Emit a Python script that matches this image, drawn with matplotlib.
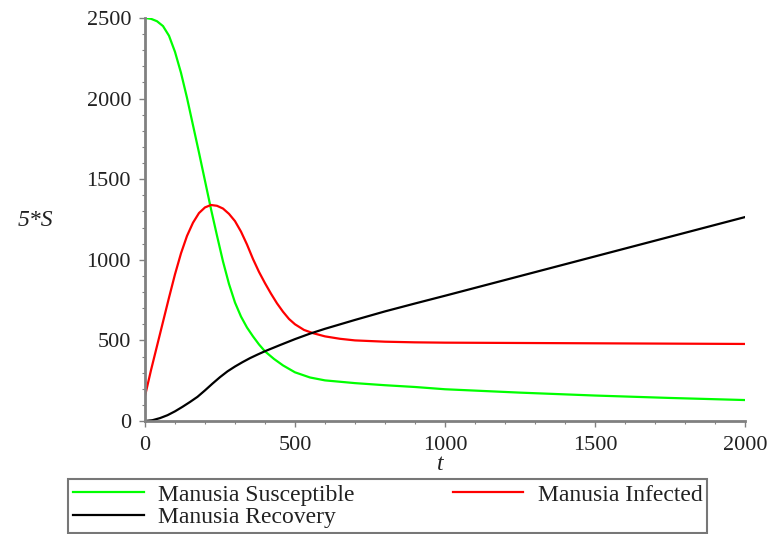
import numpy as np
import matplotlib.pyplot as plt
from matplotlib.ticker import MultipleLocator

# values
t_s = [0, 20, 40, 60, 80, 100, 120, 140, 160, 180, 200, 220, 240, 260, 280, 300, 320,
       340, 360, 380, 400, 430, 460, 500, 550, 600, 700, 800, 900, 1000, 1250, 1500,
       1750, 2000]
susceptible = [2500, 2495, 2480, 2450, 2390, 2290, 2160, 2005, 1835, 1665, 1490, 1315,
               1150, 990, 850, 735, 648, 580, 525, 475, 432, 385, 345, 302, 270, 252,
               235, 222, 211, 197, 176, 158, 143, 130]

t_i = [0, 20, 40, 60, 80, 100, 120, 140, 160, 180, 200, 220, 240, 260, 280, 300, 320,
       340, 360, 380, 400, 420, 440, 460, 480, 500, 530, 560, 600, 650, 700, 800, 900,
       1000, 1500, 2000]
infected = [155, 315, 465, 615, 765, 910, 1040, 1148, 1230, 1290, 1325, 1340, 1335,
            1318, 1285, 1240, 1175, 1095, 1005, 925, 855, 790, 730, 678, 633, 600, 565,
            545, 525, 510, 500, 492, 488, 486, 482, 478]

t_r = [0, 25, 50, 75, 100, 125, 150, 175, 200, 225, 250, 275, 300, 325, 350, 375, 400,
       450, 500, 550, 600, 700, 800, 900, 1000, 1500, 2000]
recovery = [0, 5, 18, 36, 60, 88, 118, 150, 190, 232, 272, 308, 338, 365, 390, 412, 433,
            471, 508, 542, 572, 627, 680, 729, 777, 1021, 1265]

labels = ["Manusia Susceptible", "Manusia Infected", "Manusia Recovery"]

plt.rcParams['font.family'] = ['Liberation Serif', 'DejaVu Serif']

fig = plt.figure(figsize=(7.77, 5.34), dpi=100)
ax = fig.add_axes([0.1866, 0.2116, 0.7722, 0.7547])

l1, = ax.plot(t_s, susceptible, color='#00ff00', lw=1.6)
l2, = ax.plot(t_i, infected, color='#ff0000', lw=1.6)
l3, = ax.plot(t_r, recovery, color='black', lw=1.6)

ax.set_xlim(0, 2000)
ax.set_ylim(0, 2500)
for side in ['top', 'right']:
    ax.spines[side].set_visible(False)
for side in ['left', 'bottom']:
    ax.spines[side].set_color('#808080')
    ax.spines[side].set_linewidth(2)

ax.xaxis.set_major_locator(MultipleLocator(500))
ax.xaxis.set_minor_locator(MultipleLocator(100))
ax.yaxis.set_major_locator(MultipleLocator(500))
ax.yaxis.set_minor_locator(MultipleLocator(100))
ax.tick_params(which='both', direction='out', color='#808080', labelsize=16,
               labelcolor='#222222')
ax.tick_params(which='major', length=4, width=1)
ax.tick_params(which='minor', length=2.5, width=0.8)
ax.tick_params(axis='x', pad=7)
ax.tick_params(axis='y', pad=6)

fig.text(35 / 777, 1 - 220 / 534, "5*S", style='italic', fontsize=17,
         ha='center', va='center', color='#222222')
fig.text(440 / 777, 1 - 465 / 534, "t", style='italic', fontsize=17,
         ha='center', va='center', color='#222222')

# columns fill top to bottom, so this order gives S | I on row one, R below
leg = fig.legend([l1, l3, l2], [labels[0], labels[2], labels[1]], ncol=2,
                 mode='expand', bbox_to_anchor=(68 / 777, 0.002, 639 / 777, 0.0955),
                 loc='lower left', fontsize=17, frameon=True, fancybox=False,
                 handlelength=3.0, handletextpad=0.6, borderaxespad=0,
                 labelspacing=0.05, borderpad=0.2, columnspacing=0.3)
leg.get_frame().set_edgecolor('#555555')
leg.get_frame().set_linewidth(1.5)
for txt in leg.get_texts():
    txt.set_color('#222222')

fig.savefig('out.png', dpi=100)
